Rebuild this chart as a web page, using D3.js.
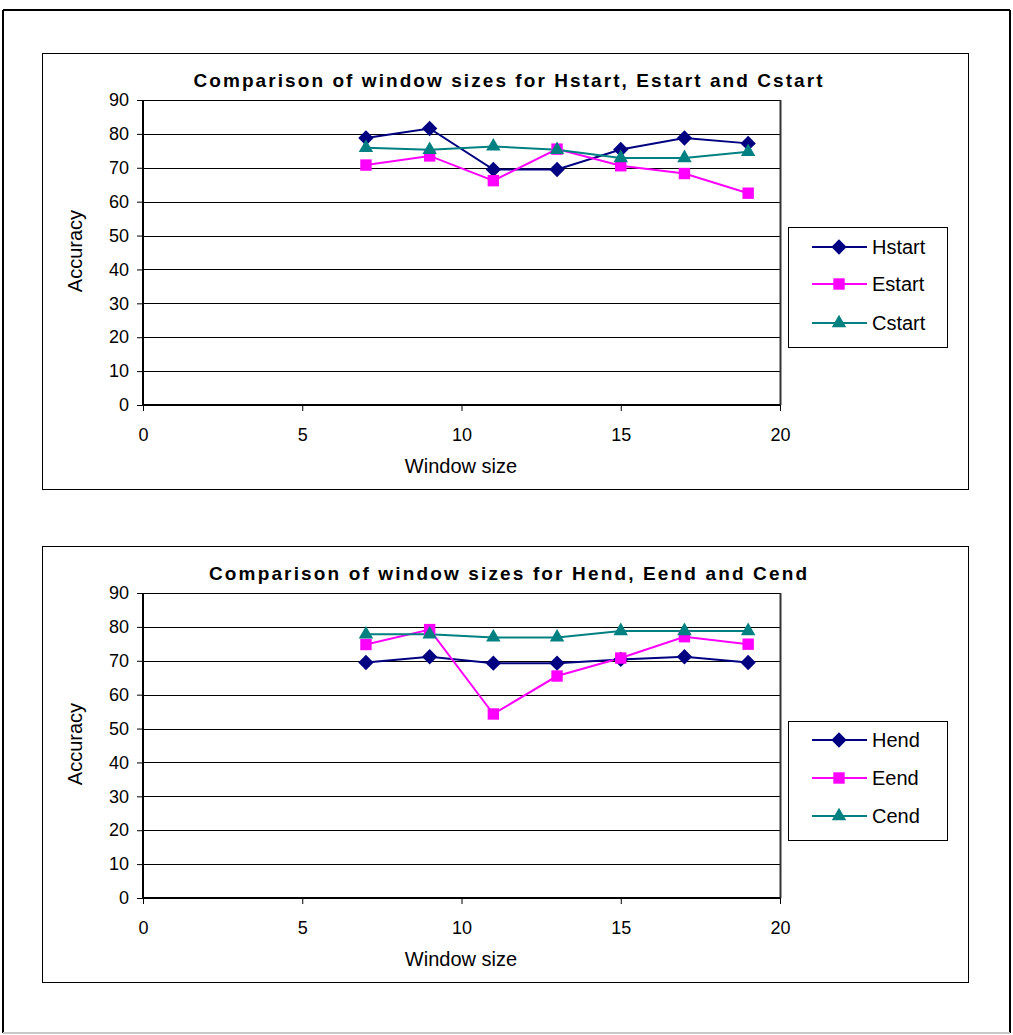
<!DOCTYPE html>
<html>
<head>
<meta charset="utf-8">
<script src="https://cdn.jsdelivr.net/npm/d3@7"></script>
<style>
  body { margin: 0; background: #fff; }
  svg { display: block; font-family: Arial, "Liberation Sans", sans-serif; }
</style>
</head>
<body>
<svg id="page" width="1013" height="1035"></svg>
<script>
// Données
const windowSizes = [7, 9, 11, 13, 15, 17, 19];
const xTicks = [0, 5, 10, 15, 20];
const yTicks = [0, 10, 20, 30, 40, 50, 60, 70, 80, 90];

const hstart = [78.8, 81.6, 69.5, 69.5, 75.4, 78.8, 77.2];
const estart = [70.8, 73.5, 66.2, 75.5, 70.6, 68.3, 62.5];
const cstart = [75.9, 75.3, 76.3, 75.3, 72.9, 72.9, 74.7];

const hend = [69.5, 71.2, 69.3, 69.3, 70.4, 71.2, 69.5];
const eend = [74.8, 79.2, 54.3, 65.5, 70.8, 77.1, 74.9];
const cend = [77.8, 77.8, 76.9, 76.9, 78.8, 78.8, 78.8];

const COLORS = { h: '#000080', e: '#ff00ff', c: '#008080' };

const charts = [
  {
    top: 53, title: 'Comparison of window sizes for Hstart, Estart and Cstart', titleLen: 629,
    series: [
      { name: 'Hstart', values: hstart, color: COLORS.h, shape: 'diamond' },
      { name: 'Estart', values: estart, color: COLORS.e, shape: 'square' },
      { name: 'Cstart', values: cstart, color: COLORS.c, shape: 'triangle' },
    ],
    legend: { y: 227, h: 120, rows: [20, 57, 96] }
  },
  {
    top: 546, title: 'Comparison of window sizes for Hend, Eend and Cend', titleLen: 598,
    series: [
      { name: 'Hend', values: hend, color: COLORS.h, shape: 'diamond' },
      { name: 'Eend', values: eend, color: COLORS.e, shape: 'square' },
      { name: 'Cend', values: cend, color: COLORS.c, shape: 'triangle' },
    ],
    legend: { y: 721, h: 119, rows: [19, 57, 95] }
  }
];

const svg = d3.select('#page');

// Cadre extérieur
svg.append('line').attr('x1', 3).attr('y1', 10).attr('x2', 1010).attr('y2', 10).attr('stroke', '#000').attr('stroke-width', 2);
svg.append('line').attr('x1', 3).attr('y1', 10).attr('x2', 3).attr('y2', 1033).attr('stroke', '#000').attr('stroke-width', 2);
svg.append('line').attr('x1', 1010).attr('y1', 10).attr('x2', 1010).attr('y2', 1033).attr('stroke', '#000').attr('stroke-width', 2);
svg.append('line').attr('x1', 3).attr('y1', 1033).attr('x2', 1010).attr('y2', 1033).attr('stroke', '#c8c8c8').attr('stroke-width', 2);

const symbolFor = {
  diamond: d3.symbol().type(d3.symbolDiamond2).size(150),
  square: d3.symbol().type(d3.symbolSquare).size(130),
  triangle: d3.symbol().type(d3.symbolTriangle2).size(150),
};

function drawChart(cfg) {
  const T = cfg.top;
  const plot = { left: 143, right: 780, top: T + 47, bottom: T + 352 };

  const g = svg.append('g');

  // Cadre du graphique
  g.append('rect')
    .attr('x', 42.5).attr('y', T + 0.5).attr('width', 926).attr('height', 436)
    .attr('fill', '#fff').attr('stroke', '#000').attr('stroke-width', 1);

  const x = d3.scaleLinear().domain([0, 20]).range([plot.left, plot.right]);
  const y = d3.scaleLinear().domain([0, 90]).range([plot.bottom, plot.top]);

  // Grille horizontale
  g.append('g')
    .selectAll('line').data(yTicks.filter(d => d > 0)).join('line')
    .attr('x1', plot.left).attr('x2', plot.right)
    .attr('y1', d => Math.round(y(d)) + 0.5).attr('y2', d => Math.round(y(d)) + 0.5)
    .attr('stroke', '#000').attr('stroke-width', 1);

  // Bord droit de la zone de tracé
  g.append('line')
    .attr('x1', plot.right + 0.5).attr('x2', plot.right + 0.5)
    .attr('y1', plot.top).attr('y2', plot.bottom)
    .attr('stroke', '#333').attr('stroke-width', 2);

  // Axe Y
  g.append('g')
    .attr('transform', `translate(${plot.left},0)`)
    .call(d3.axisLeft(y).tickValues(yTicks).tickSize(6).tickPadding(8).tickFormat(d3.format('d')))
    .call(gg => gg.select('.domain').attr('stroke-width', 2).attr('d', `M0,${plot.top}V${plot.bottom}`))
    .call(gg => gg.selectAll('.tick line').attr('stroke', '#000'))
    .call(gg => gg.selectAll('text')
      .style('font-size', '18px').style('fill', '#000')
      .style('font-family', 'Arial, "Liberation Sans", sans-serif'));

  // Axe X
  g.append('g')
    .attr('transform', `translate(0,${plot.bottom})`)
    .call(d3.axisBottom(x).tickValues(xTicks).tickSize(6).tickPadding(17))
    .call(gg => gg.select('.domain').attr('stroke-width', 2).attr('d', `M${plot.left},0H${plot.right}`))
    .call(gg => gg.selectAll('.tick line').attr('stroke', '#000'))
    .call(gg => gg.selectAll('text')
      .style('font-size', '18px').style('fill', '#000')
      .style('font-family', 'Arial, "Liberation Sans", sans-serif'));

  // Titres
  g.append('text')
    .attr('x', 508).attr('y', T + 34).attr('text-anchor', 'middle')
    .attr('textLength', cfg.titleLen).attr('lengthAdjust', 'spacing')
    .style('font-size', '19px').style('font-weight', 'bold').text(cfg.title);

  g.append('text')
    .attr('x', 461).attr('y', T + 420).attr('text-anchor', 'middle')
    .style('font-size', '20px').text('Window size');

  g.append('text')
    .attr('transform', `translate(82,${T + 198}) rotate(-90)`).attr('text-anchor', 'middle')
    .style('font-size', '20px').text('Accuracy');

  // Courbes et marqueurs
  const line = d3.line().x((d, i) => x(windowSizes[i])).y(d => y(d));

  cfg.series.forEach(s => {
    g.append('path').datum(s.values)
      .attr('fill', 'none').attr('stroke', s.color).attr('stroke-width', 2)
      .attr('d', line);
  });
  cfg.series.forEach(s => {
    g.append('g').selectAll('path').data(s.values).join('path')
      .attr('transform', (d, i) => `translate(${x(windowSizes[i])},${y(d)})`)
      .attr('d', symbolFor[s.shape]())
      .attr('fill', s.color);
  });

  // Légende
  const L = cfg.legend;
  const lg = g.append('g').attr('transform', `translate(788,${L.y})`);
  lg.append('rect').attr('x', 0.5).attr('y', 0.5).attr('width', 159).attr('height', L.h)
    .attr('fill', '#fff').attr('stroke', '#000');
  cfg.series.forEach((s, i) => {
    const ry = L.rows[i];
    lg.append('line').attr('x1', 24).attr('x2', 79).attr('y1', ry).attr('y2', ry)
      .attr('stroke', s.color).attr('stroke-width', 2);
    lg.append('path').attr('transform', `translate(51,${ry})`)
      .attr('d', symbolFor[s.shape]()).attr('fill', s.color);
    lg.append('text').attr('x', 84).attr('y', ry + 7)
      .style('font-size', '20px').text(s.name);
  });
}

charts.forEach(drawChart);
</script>
</body>
</html>
